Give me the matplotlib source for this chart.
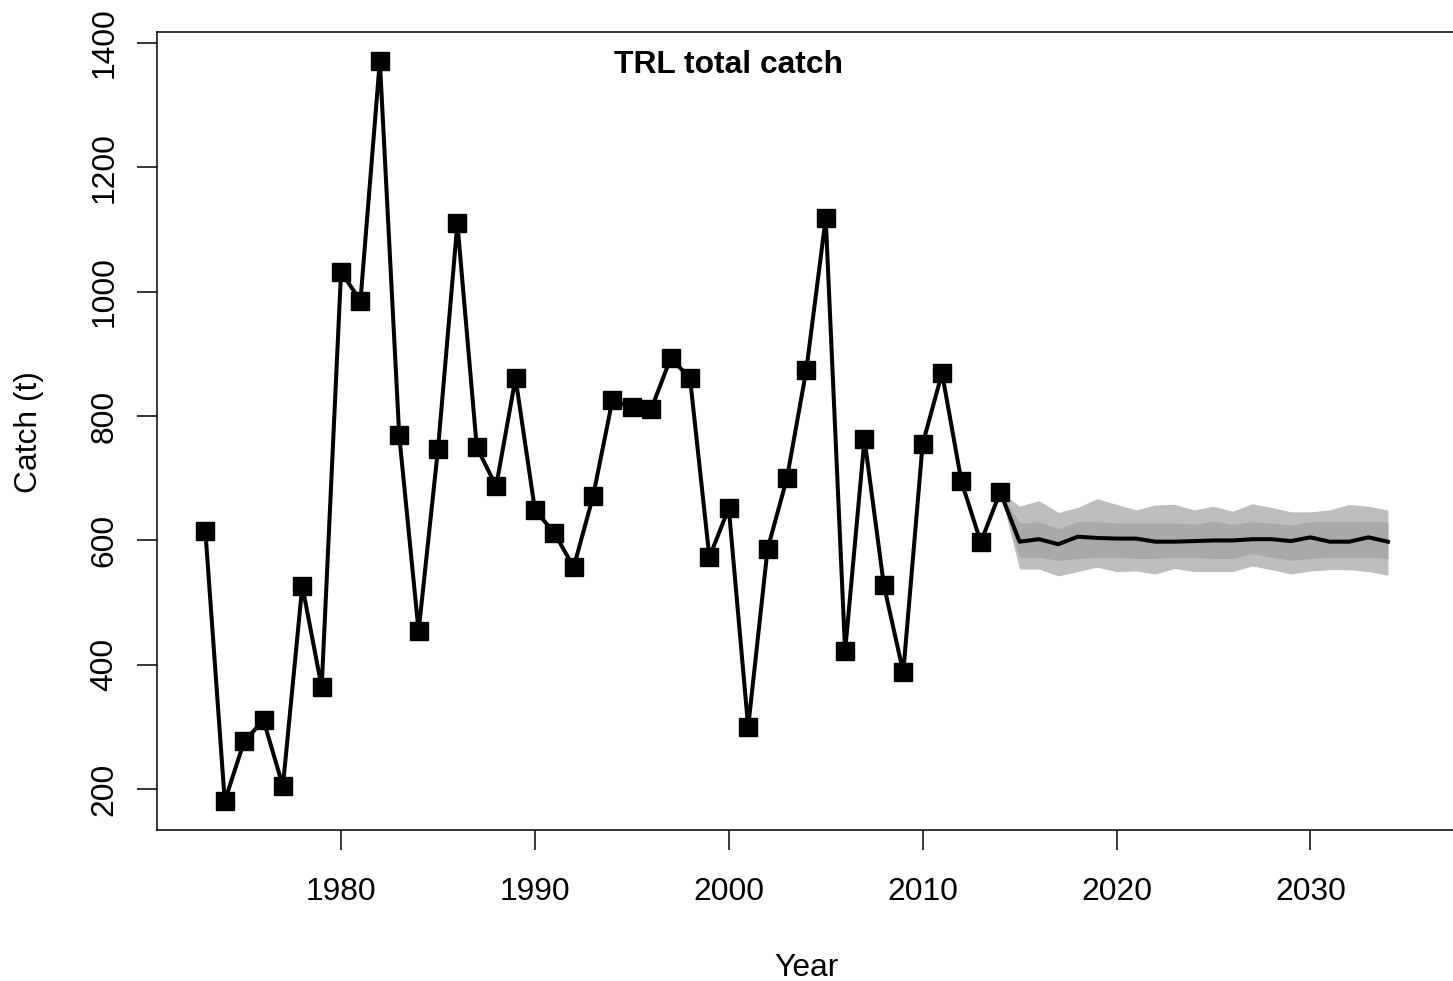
import matplotlib
matplotlib.use('Agg')
import matplotlib.pyplot as plt
import numpy as np

plt.rcParams['font.family'] = ['Liberation Sans', 'DejaVu Sans']

# observed catch, 1973-2014
years = np.arange(1973, 2015)
catch = [615, 181, 277, 311, 205, 527, 364, 1032, 985, 1371,
         769, 454, 747, 1110, 750, 687, 861, 649, 612, 557,
         671, 826, 814, 811, 893, 861, 573, 652, 300, 586,
         700, 874, 1118, 422, 763, 528, 388, 755, 869, 695,
         597, 678]

# projection 2015-2034 (median and two quantile bands)
proj_years = np.arange(2015, 2035)
proj_med = [598, 602, 594, 606, 604, 603, 603, 598, 598, 599,
            600, 600, 602, 602, 599, 605, 598, 598, 605, 598]
proj_in_lo = [573, 573, 568, 571, 573, 573, 571, 571, 573, 573,
              571, 571, 579, 573, 568, 571, 573, 573, 573, 571]
proj_in_hi = [628, 630, 619, 630, 630, 628, 628, 628, 628, 626,
              631, 626, 630, 628, 625, 630, 630, 630, 630, 630]
proj_out_lo = [554, 554, 543, 550, 557, 550, 551, 546, 555, 550,
               550, 550, 559, 553, 546, 551, 553, 553, 550, 544]
proj_out_hi = [655, 664, 645, 653, 667, 658, 649, 657, 658, 649,
               655, 647, 659, 653, 646, 646, 649, 658, 655, 649]

# join projection onto last observation
py = np.concatenate([[years[-1]], proj_years])
last = catch[-1]
med = np.concatenate([[last], proj_med])
in_lo = np.concatenate([[last], proj_in_lo])
in_hi = np.concatenate([[last], proj_in_hi])
out_lo = np.concatenate([[last], proj_out_lo])
out_hi = np.concatenate([[last], proj_out_hi])

W, H = 1453, 981
fig = plt.figure(figsize=(W / 100, H / 100), dpi=100, facecolor='white')
l, r, t, b = 156.7, 1467, 31.7, 830
ax = fig.add_axes([l / W, (H - b) / H, (r - l) / W, (b - t) / H])

ax.fill_between(py, out_lo, out_hi, color='#bebebe', lw=0)
ax.fill_between(py, in_lo, in_hi, color='#a9a9a9', lw=0)
ax.plot(py, med, color='black', lw=2.9, solid_joinstyle='round')
ax.plot(years, catch, color='black', lw=2.9, marker='s', ms=13,
        solid_joinstyle='round')

ax.set_xlim(1970.49, 2038.08)
ax.set_ylim(134.6, 1417.7)
ax.set_xticks([1980, 1990, 2000, 2010, 2020, 2030])
ax.set_yticks([200, 400, 600, 800, 1000, 1200, 1400])
ax.tick_params(axis='both', length=14.4, width=1.1, labelsize=22.9)
ax.tick_params(axis='x', pad=19.2)
ax.tick_params(axis='y', pad=12.5)
for lab in ax.get_yticklabels():
    lab.set_rotation(90)
    lab.set_va('center')
for s in ax.spines.values():
    s.set_linewidth(1.1)

ax.text(2000, 1352, 'TRL total catch', ha='center', va='baseline',
        fontsize=22.9, fontweight='bold')

fig.text(806 / W, (H - 976) / H, 'Year', ha='center', va='baseline', fontsize=22.9)
fig.text(28.7 / W, (H - 432) / H, 'Catch (t)', ha='center', va='center',
         rotation=90, fontsize=22.9)

fig.savefig('out.png', dpi=100)
